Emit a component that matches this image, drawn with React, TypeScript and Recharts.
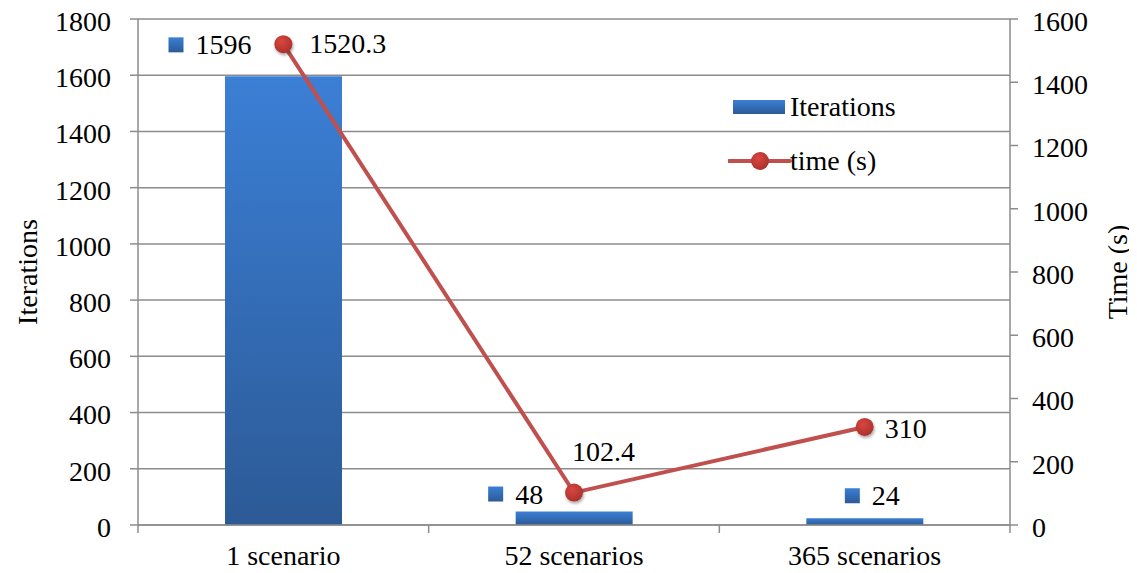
import { ComposedChart, Bar, Line, XAxis, YAxis, CartesianGrid, LabelList } from 'recharts'

const categories = ['1 scenario', '52 scenarios', '365 scenarios']
const iterations = [1596, 48, 24]
const timeSeconds = [1520.3, 102.4, 310]
const iterationTicks = [0, 200, 400, 600, 800, 1000, 1200, 1400, 1600, 1800]
const timeTicks = [0, 200, 400, 600, 800, 1000, 1200, 1400, 1600]

const data = categories.map((name, i) => ({ name, iterations: iterations[i], time: timeSeconds[i] }))

const W = 1137
const H = 573
const LEFT = 138
const RIGHT_W = 127
const BAND = (W - LEFT - RIGHT_W) / categories.length
const FONT = 'Liberation Serif'
const FS = 28
const AXIS = '#8c8c8c'
const RED = '#c0504d'

// label placement next to each bar / point (relative to bar centre-top or point)
const barLabelPos = [
  { dx: -115, dy: -22 },
  { dx: -86, dy: -8 },
  { dx: -20, dy: -13 },
]
const lineLabelPos = [
  { dx: 26, dy: 9 },
  { dx: -2, dy: -32 },
  { dx: 20, dy: 11 },
]

function BarValueLabel(props: any) {
  const { x, y, width, value, index } = props
  const p = barLabelPos[index]
  const cx = Number(x) + Number(width) / 2
  const sx = cx + p.dx
  const base = Number(y) + p.dy
  return (
    <g>
      <rect x={sx} y={base - 17} width={15} height={15} fill="url(#barGrad)" />
      <text x={sx + 27} y={base} fontFamily={FONT} fontSize={FS} fill="#000">{value}</text>
    </g>
  )
}

function LineValueLabel(props: any) {
  const { x, y, value, index } = props
  const p = lineLabelPos[index]
  return (
    <text x={Number(x) + p.dx} y={Number(y) + p.dy} fontFamily={FONT} fontSize={FS} fill="#000">{value}</text>
  )
}

// category labels plus tick marks on the band edges
function CategoryTick(props: any) {
  const { x, payload, index } = props
  const axisY = 525
  const last = index === categories.length - 1
  return (
    <g>
      <line x1={x - BAND / 2} x2={x - BAND / 2} y1={axisY} y2={axisY + 8} stroke={AXIS} strokeWidth={1.5} />
      {last && <line x1={x + BAND / 2} x2={x + BAND / 2} y1={axisY} y2={axisY + 8} stroke={AXIS} strokeWidth={1.5} />}
      <text x={x} y={axisY + 40} textAnchor="middle" fontFamily={FONT} fontSize={FS} fill="#000">{payload.value}</text>
    </g>
  )
}

function Dot(props: any) {
  const { cx, cy } = props
  if (cx == null || cy == null) return null
  return <circle cx={cx} cy={cy} r={9} fill="url(#dotGrad)" filter="url(#shadow)" />
}

function LegendBox() {
  return (
    <svg width={200} height={90} style={{ position: 'absolute', left: 728, top: 88 }}>
      <rect x={5} y={12} width={52} height={14} fill="url(#barGrad)" />
      <text x={62} y={28} fontFamily={FONT} fontSize={FS} fill="#000">Iterations</text>
      <line x1={1} x2={62} y1={73} y2={73} stroke={RED} strokeWidth={4} strokeLinecap="round" />
      <circle cx={32} cy={73} r={9} fill="url(#dotGrad)" />
      <text x={62} y={82} fontFamily={FONT} fontSize={FS} fill="#000">time (s)</text>
    </svg>
  )
}

export default function App() {
  return (
    <div style={{ margin: -8, width: W, height: H, background: '#fff', position: 'relative' }}>
      <ComposedChart width={W} height={H} data={data} margin={{ top: 19, right: 0, bottom: 0, left: 0 }}>
        <defs>
          <linearGradient id="barGrad" x1="0" y1="0" x2="0" y2="1">
            <stop offset="0%" stopColor="#3b7fd6" />
            <stop offset="100%" stopColor="#2c5a96" />
          </linearGradient>
          <radialGradient id="dotGrad" cx="40%" cy="35%" r="70%">
            <stop offset="0%" stopColor="#d9463f" />
            <stop offset="100%" stopColor="#a8302c" />
          </radialGradient>
          <filter id="shadow" x="-50%" y="-50%" width="200%" height="200%">
            <feDropShadow dx="1" dy="2" stdDeviation="1.5" floodColor="#000" floodOpacity="0.35" />
          </filter>
        </defs>
        <CartesianGrid yAxisId="left" vertical={false} stroke={AXIS} strokeWidth={1.5} />
        <XAxis
          dataKey="name"
          height={H - 525}
          axisLine={{ stroke: AXIS, strokeWidth: 1.5 }}
          tickLine={false}
          tick={<CategoryTick />}
          interval={0}
        />
        <YAxis
          yAxisId="left"
          width={LEFT}
          domain={[0, 1800]}
          ticks={iterationTicks}
          interval={0}
          axisLine={{ stroke: AXIS, strokeWidth: 1.5 }}
          tickLine={{ stroke: AXIS, strokeWidth: 1.5 }}
          tickSize={8}
          tickMargin={19}
          tick={{ fontFamily: FONT, fontSize: FS, fill: '#000', dy: 2 }}
          label={{ value: 'Iterations', angle: -90, position: 'center', dx: -42, style: { fontFamily: FONT, fontSize: FS, fill: '#000', textAnchor: 'middle' } }}
        />
        <YAxis
          yAxisId="right"
          orientation="right"
          width={RIGHT_W}
          domain={[0, 1600]}
          ticks={timeTicks}
          interval={0}
          axisLine={{ stroke: AXIS, strokeWidth: 1.5 }}
          tickLine={{ stroke: AXIS, strokeWidth: 1.5 }}
          tickSize={8}
          tickMargin={14}
          tick={{ fontFamily: FONT, fontSize: FS, fill: '#000', dy: 2 }}
          label={{ value: 'Time (s)', angle: -90, position: 'center', dx: 44, style: { fontFamily: FONT, fontSize: FS, fill: '#000', textAnchor: 'middle' } }}
        />
        <Bar yAxisId="left" dataKey="iterations" name="Iterations" fill="url(#barGrad)" barSize={117} isAnimationActive={false}>
          <LabelList dataKey="iterations" content={<BarValueLabel />} />
        </Bar>
        <Line
          yAxisId="right"
          dataKey="time"
          name="time (s)"
          type="linear"
          stroke={RED}
          strokeWidth={4}
          dot={<Dot />}
          activeDot={false}
          isAnimationActive={false}
        >
          <LabelList dataKey="time" content={<LineValueLabel />} />
        </Line>
      </ComposedChart>
      <LegendBox />
    </div>
  )
}
